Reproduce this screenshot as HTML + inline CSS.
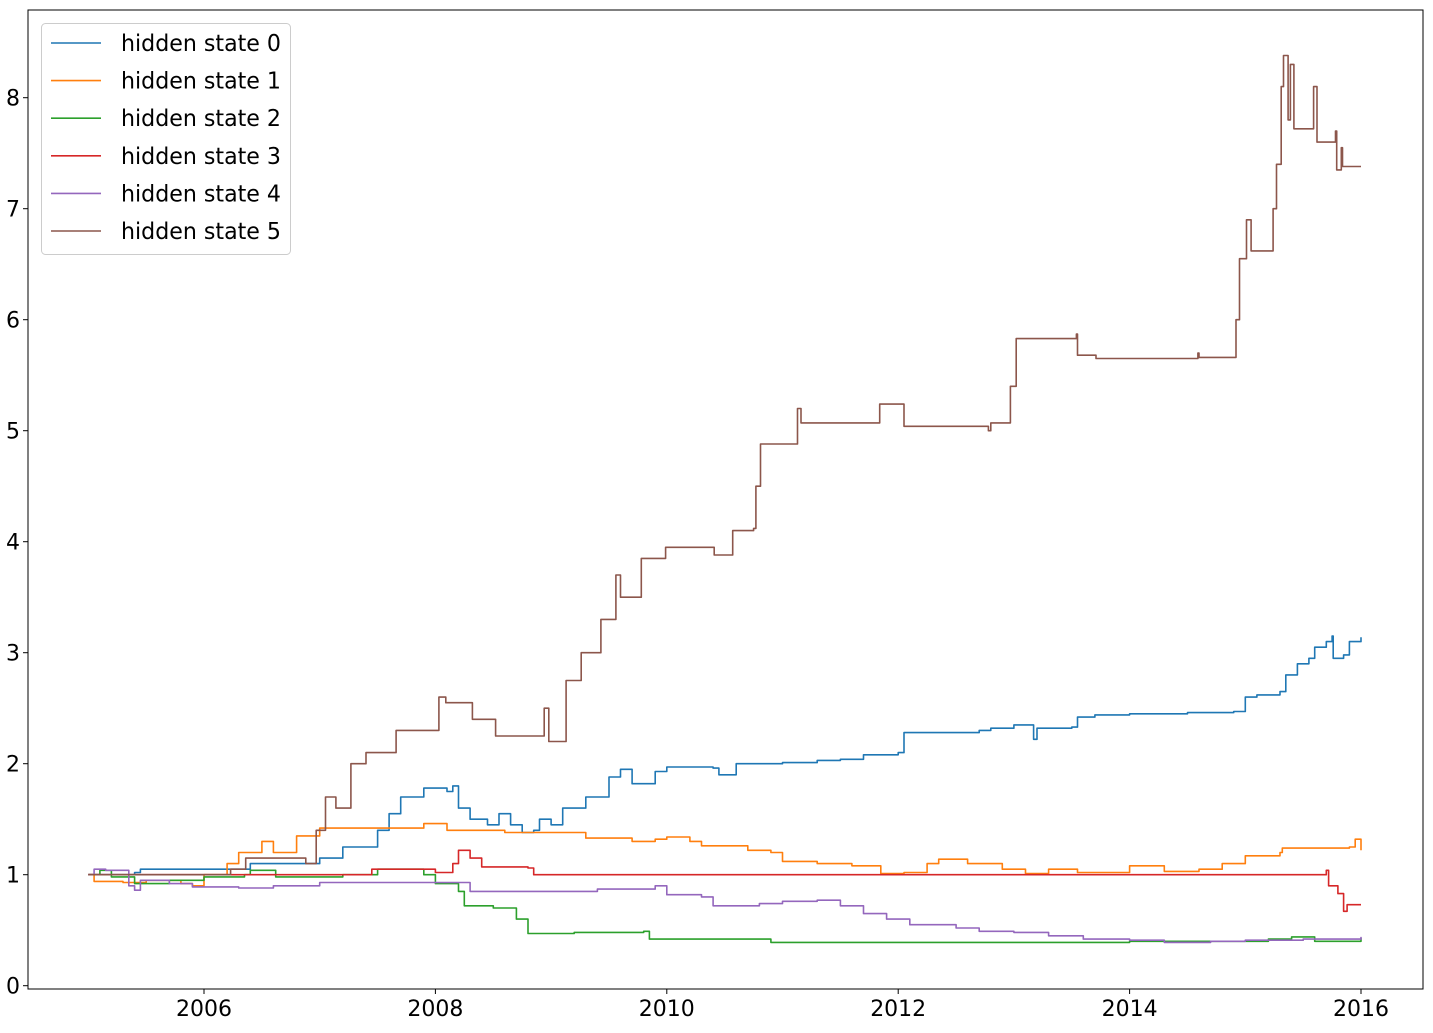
<!DOCTYPE html>
<html><head><meta charset="utf-8"><style>
body{margin:0;background:#fff;}
svg text{font-family:"DejaVu Sans","Liberation Sans",sans-serif;fill:#000;}
</style></head><body>
<svg id="chart" width="1433" height="1028" xmlns="http://www.w3.org/2000/svg">
<rect x="0" y="0" width="1433" height="1028" fill="#fff"/>
<g id="series"></g>
<g id="axes"></g>
<g id="legend"></g>
</svg>
<script>
const seriesNames = ["hidden state 0","hidden state 1","hidden state 2","hidden state 3","hidden state 4","hidden state 5"];
const seriesColors = ["#1f77b4","#ff7f0e","#2ca02c","#d62728","#9467bd","#8c564b"];
const xTicks = [2006,2008,2010,2012,2014,2016];
const yTicks = [0,1,2,3,4,5,6,7,8];

const s0 = [[2005,1.0],[2005.4,1.02],[2005.45,1.05],[2006.35,1.05],[2006.4,1.1],[2006.9,1.1],[2007.0,1.15],[2007.2,1.25],[2007.5,1.4],[2007.6,1.55],[2007.7,1.7],[2007.9,1.78],[2008.1,1.75],[2008.15,1.8],[2008.2,1.6],[2008.3,1.5],[2008.45,1.45],[2008.55,1.55],[2008.65,1.45],[2008.75,1.38],[2008.85,1.4],[2008.9,1.5],[2009.0,1.45],[2009.1,1.6],[2009.3,1.7],[2009.5,1.88],[2009.6,1.95],[2009.7,1.82],[2009.9,1.93],[2010.0,1.97],[2010.4,1.96],[2010.45,1.9],[2010.55,1.9],[2010.6,2.0],[2011.0,2.01],[2011.3,2.03],[2011.5,2.04],[2011.7,2.08],[2012.0,2.1],[2012.05,2.28],[2012.7,2.3],[2012.8,2.32],[2013.0,2.35],[2013.15,2.35],[2013.17,2.22],[2013.2,2.32],[2013.5,2.33],[2013.55,2.42],[2013.7,2.44],[2014.0,2.45],[2014.5,2.46],[2014.9,2.47],[2015.0,2.6],[2015.1,2.62],[2015.3,2.65],[2015.35,2.8],[2015.45,2.9],[2015.55,2.95],[2015.6,3.05],[2015.7,3.1],[2015.75,3.15],[2015.76,2.95],[2015.85,2.98],[2015.9,3.1],[2016.0,3.14]];
const s1 = [[2005,1.0],[2005.05,0.94],[2005.3,0.93],[2005.5,0.95],[2005.8,0.92],[2005.9,0.9],[2006.0,1.0],[2006.2,1.1],[2006.3,1.2],[2006.5,1.3],[2006.6,1.2],[2006.8,1.35],[2007.0,1.42],[2007.8,1.42],[2007.9,1.46],[2008.1,1.4],[2008.6,1.38],[2009.3,1.33],[2009.7,1.3],[2009.9,1.32],[2010.0,1.34],[2010.2,1.3],[2010.3,1.26],[2010.7,1.22],[2010.9,1.2],[2011.0,1.12],[2011.3,1.1],[2011.6,1.08],[2011.85,1.01],[2012.05,1.02],[2012.25,1.1],[2012.35,1.14],[2012.6,1.1],[2012.9,1.05],[2013.1,1.01],[2013.3,1.05],[2013.55,1.02],[2014.0,1.08],[2014.3,1.03],[2014.6,1.05],[2014.8,1.1],[2015.0,1.17],[2015.3,1.2],[2015.32,1.24],[2015.9,1.25],[2015.95,1.32],[2016.0,1.22]];
const s2 = [[2005,1.0],[2005.1,1.04],[2005.2,0.98],[2005.4,0.92],[2005.7,0.95],[2006.0,0.98],[2006.35,1.0],[2006.4,1.04],[2006.6,1.04],[2006.62,0.98],[2007.2,1.0],[2007.5,1.05],[2007.9,1.0],[2008.0,0.92],[2008.2,0.85],[2008.25,0.72],[2008.5,0.7],[2008.7,0.6],[2008.8,0.47],[2009.2,0.48],[2009.4,0.48],[2009.8,0.49],[2009.85,0.42],[2010.5,0.42],[2010.9,0.39],[2013.5,0.39],[2014.0,0.4],[2015.2,0.42],[2015.4,0.44],[2015.6,0.4],[2016.0,0.43]];
const s3 = [[2005,1.0],[2007.4,1.0],[2007.45,1.05],[2008.0,1.02],[2008.05,1.02],[2008.15,1.1],[2008.2,1.22],[2008.3,1.15],[2008.4,1.07],[2008.8,1.06],[2008.85,1.0],[2009.0,1.0],[2015.7,1.04],[2015.72,0.9],[2015.8,0.83],[2015.85,0.67],[2015.88,0.73],[2016.0,0.73]];
const s4 = [[2005,1.0],[2005.05,1.05],[2005.15,1.04],[2005.35,0.9],[2005.4,0.86],[2005.45,0.95],[2005.7,0.92],[2005.9,0.89],[2006.3,0.88],[2006.6,0.9],[2007.0,0.93],[2008.2,0.93],[2008.3,0.85],[2009.4,0.87],[2009.9,0.9],[2010.0,0.82],[2010.3,0.8],[2010.4,0.72],[2010.8,0.74],[2011.0,0.76],[2011.3,0.77],[2011.5,0.72],[2011.7,0.65],[2011.9,0.6],[2012.1,0.55],[2012.5,0.52],[2012.7,0.49],[2013.0,0.48],[2013.3,0.45],[2013.6,0.42],[2014.0,0.41],[2014.3,0.39],[2014.7,0.4],[2015.0,0.41],[2015.5,0.42],[2016.0,0.44]];
const s5 = [[2005,1.0],[2006.23,1.05],[2006.36,1.15],[2006.88,1.1],[2006.97,1.4],[2007.05,1.7],[2007.14,1.6],[2007.27,2.0],[2007.4,2.1],[2007.66,2.3],[2007.92,2.3],[2008.03,2.6],[2008.09,2.55],[2008.31,2.55],[2008.32,2.4],[2008.48,2.4],[2008.52,2.25],[2008.87,2.25],[2008.94,2.5],[2008.98,2.2],[2009.04,2.2],[2009.13,2.75],[2009.26,3.0],[2009.43,3.3],[2009.56,3.7],[2009.6,3.5],[2009.69,3.5],[2009.78,3.85],[2009.99,3.95],[2010.4,3.95],[2010.41,3.88],[2010.53,3.88],[2010.57,4.1],[2010.75,4.12],[2010.77,4.5],[2010.81,4.88],[2011.07,4.88],[2011.13,5.2],[2011.16,5.07],[2011.83,5.07],[2011.84,5.24],[2012.04,5.24],[2012.05,5.04],[2012.76,5.04],[2012.78,5.0],[2012.8,5.07],[2012.93,5.07],[2012.97,5.4],[2013.02,5.83],[2013.49,5.83],[2013.54,5.87],[2013.55,5.68],[2013.68,5.68],[2013.71,5.65],[2014.57,5.65],[2014.59,5.7],[2014.6,5.66],[2014.89,5.66],[2014.92,6.0],[2014.95,6.55],[2015.01,6.9],[2015.05,6.62],[2015.2,6.62],[2015.24,7.0],[2015.27,7.4],[2015.31,8.1],[2015.33,8.38],[2015.37,7.8],[2015.39,8.3],[2015.42,7.72],[2015.57,7.72],[2015.59,8.1],[2015.62,7.6],[2015.72,7.6],[2015.78,7.7],[2015.79,7.35],[2015.83,7.55],[2015.84,7.38],[2016.0,7.38]];
const allSeries = [s0,s1,s2,s3,s4,s5];

const L=28,R=1423,T=10,B=989;
const xs = yr => 204 + (yr-2006)*115.7;
const ys = v => 985.7 - v*111.0;
const NS="http://www.w3.org/2000/svg";
function mk(tag,attrs,parent){const e=document.createElementNS(NS,tag);for(const k in attrs)e.setAttribute(k,attrs[k]);parent.appendChild(e);return e;}

const sg=document.getElementById('series');
allSeries.forEach((s,i)=>{
  let d='M'+xs(s[0][0]).toFixed(1)+' '+ys(s[0][1]).toFixed(1);
  for(let j=1;j<s.length;j++){
    d+=' H'+xs(s[j][0]).toFixed(1)+' V'+ys(s[j][1]).toFixed(1);
  }
  const p=mk('path',{d:d,fill:'none',stroke:seriesColors[i],'stroke-width':1.6,'stroke-linejoin':'round'},sg);
  
  
});

const ax=document.getElementById('axes');
const frame=mk('rect',{x:L,y:T,width:R-L,height:B-T,fill:'none',stroke:'#000','stroke-width':1},ax);


xTicks.forEach(t=>{
  const x=xs(t);
  mk('line',{x1:x,x2:x,y1:B,y2:B+5,stroke:'#000'},ax);
  const tx=mk('text',{x:x,y:B+27,'text-anchor':'middle','font-size':22},ax);
  tx.textContent=t;
  
  
});
yTicks.forEach(t=>{
  const y=ys(t);
  mk('line',{x1:L-5,x2:L,y1:y,y2:y,stroke:'#000'},ax);
  const tx=mk('text',{x:L-8,y:y+8,'text-anchor':'end','font-size':22},ax);
  tx.textContent=t;
  
  
});

const lg=document.getElementById('legend');
const box=mk('rect',{x:41.5,y:23.5,width:249,height:231,rx:4,fill:'#fff','fill-opacity':0.8,stroke:'#ccc'},lg);


seriesNames.forEach((n,i)=>{
  const y=43+i*37.6;
  const g=mk('g',{},lg);
  
  
  mk('line',{x1:51,x2:101,y1:y,y2:y,stroke:seriesColors[i],'stroke-width':1.6},g);
  const t=mk('text',{x:121,y:y+8,'font-size':23,textLength:160,lengthAdjust:'spacingAndGlyphs'},g);
  t.textContent=n;
});
</script>
</body></html>
